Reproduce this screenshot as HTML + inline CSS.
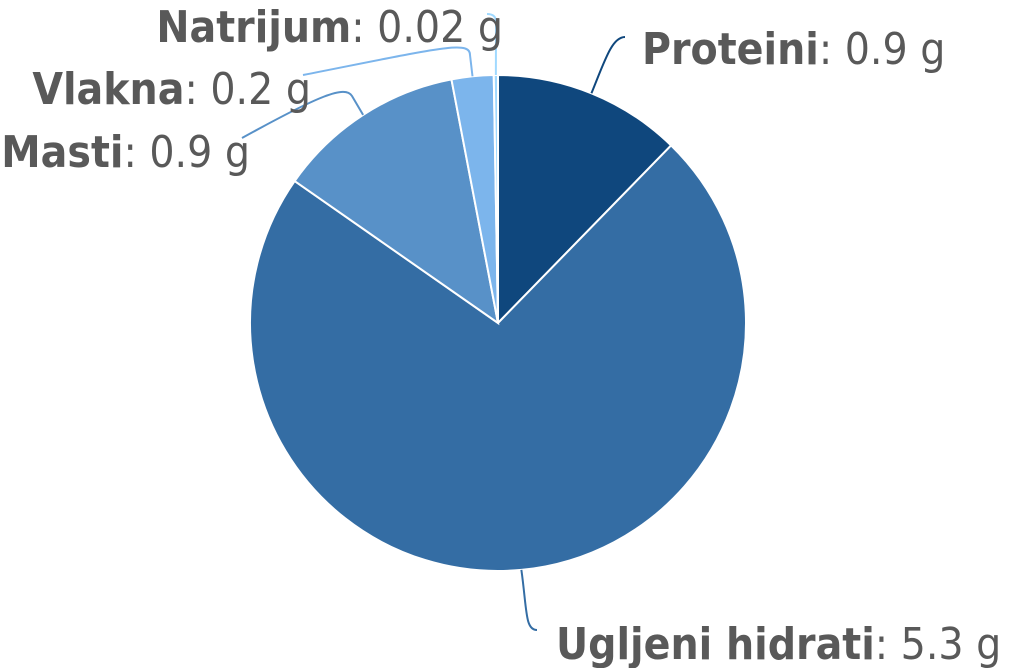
<!DOCTYPE html>
<html><head><meta charset="utf-8"><style>
html,body{margin:0;padding:0;background:#fff;width:1009px;height:668px;overflow:hidden}
text{font-family:"DejaVu Sans Condensed","DejaVu Sans","Liberation Sans",sans-serif;font-size:44px;fill:#595959}
</style></head><body>
<svg id="chart" width="1009" height="668" xmlns="http://www.w3.org/2000/svg">
<g id="slices"></g>
<g id="labels"></g>
</svg>
<script>
const categories=["Proteini","Ugljeni hidrati","Masti","Vlakna","Natrijum"];
const values=[0.9,5.3,0.9,0.2,0.02];
const valueLabels=["0.9 g","5.3 g","0.9 g","0.2 g","0.02 g"];
const colors=["#0f477d","#346da4","#5891c8","#7cb5ec","#a0d9ff"];
const cx=498,cy=323,R=248;
const NS="http://www.w3.org/2000/svg";
const total=values.reduce((a,b)=>a+b,0);
function pt(a,r){return [cx+r*Math.sin(a),cy-r*Math.cos(a)];}
const sg=document.getElementById('slices'),lg=document.getElementById('labels');
const layout=[
 {x:642,y:64,a:"start",c:(s)=>`M${s[0]},${s[1]} C605,60 612,37 625,37`},
 {x:556,y:659,a:"start",c:(s)=>`M${s[0]},${s[1]} C527,610 525,630 537,630`},
 {x:250,y:167,a:"end",c:(s)=>`M${s[0]},${s[1]} L352,96 C345,85 320,95 242,138`},
 {x:311,y:104,a:"end",c:(s)=>`M${s[0]},${s[1]} L470,55 C470,40 440,48 303,75`},
 {x:503,y:42,a:"end",c:(s)=>`M${s[0]},${s[1]} L496,22 C496,16 492,14 487,14`}
];
let start=0;
values.forEach((v,i)=>{
 const ang=v/total*2*Math.PI,end=start+ang;
 const p1=pt(start,R),p2=pt(end,R);
 const path=document.createElementNS(NS,'path');
 path.setAttribute('d',`M${cx},${cy} L${p1[0]},${p1[1]} A${R},${R} 0 ${ang>Math.PI?1:0} 1 ${p2[0]},${p2[1]} Z`);
 path.setAttribute('fill',colors[i]);path.setAttribute('stroke','#fff');path.setAttribute('stroke-width','2');
 
 
 sg.appendChild(path);
 const mid=(start+end)/2,s=pt(mid,R);
 const L=layout[i];
 const con=document.createElementNS(NS,'path');
 con.setAttribute('d',L.c(s));con.setAttribute('fill','none');con.setAttribute('stroke',colors[i]);con.setAttribute('stroke-width','2');
 
 
 lg.appendChild(con);
 const t=document.createElementNS(NS,'text');
 t.setAttribute('x',L.x);t.setAttribute('y',L.y);t.setAttribute('text-anchor',L.a);
 
 
 const b=document.createElementNS(NS,'tspan');b.setAttribute('font-weight','bold');b.textContent=categories[i];
 t.appendChild(b);t.appendChild(document.createTextNode(': '+valueLabels[i]));
 lg.appendChild(t);
 start=end;
});
</script>
</body></html>
